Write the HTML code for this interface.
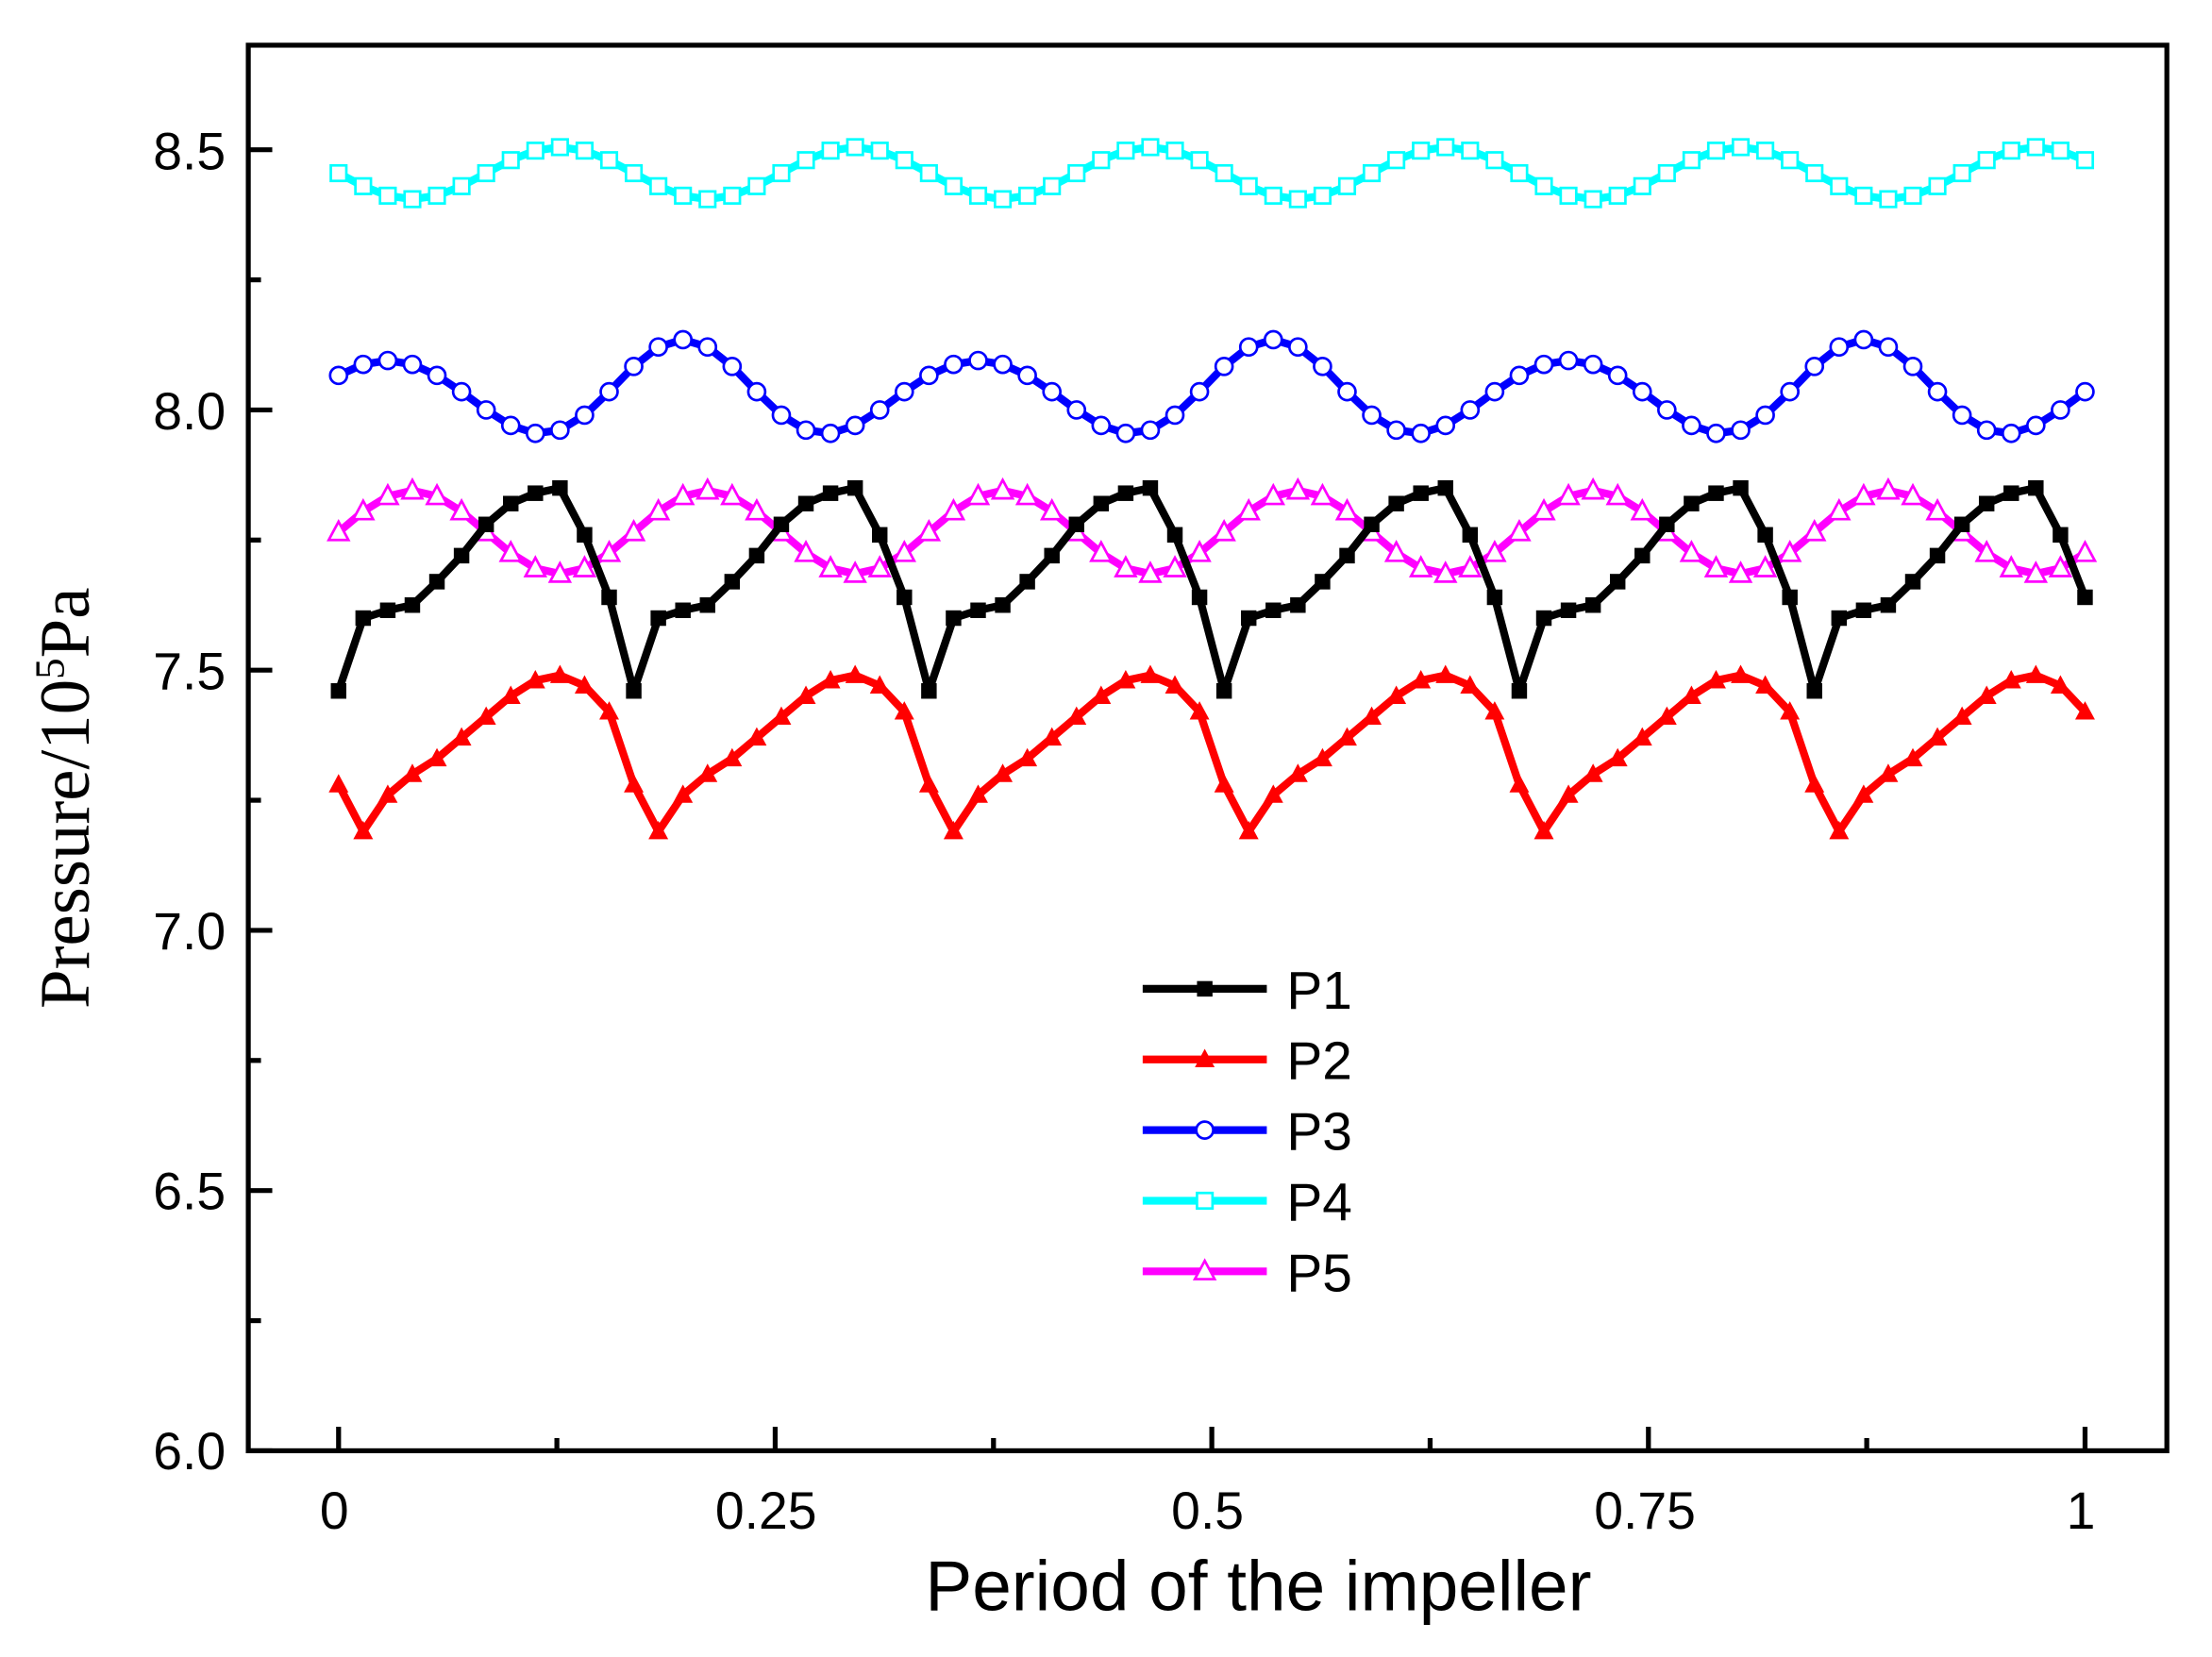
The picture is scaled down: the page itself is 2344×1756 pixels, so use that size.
<!DOCTYPE html>
<html><head><meta charset="utf-8"><style>html,body{margin:0;padding:0;background:#fff}svg{display:block}</style></head>
<body>
<svg id="s" width="2344" height="1756" viewBox="0 0 1568 1173" preserveAspectRatio="none" xmlns="http://www.w3.org/2000/svg">
<rect width="1568" height="1173" fill="#fff"/>
<g id="plot"></g>
<rect x="176" y="32" width="1360" height="995" fill="none" stroke="#000" stroke-width="3.5"/>
<g id="ticks" stroke="#000" stroke-width="3.5"></g>
<g font-family="Liberation Sans, sans-serif" font-size="37" fill="#000" text-anchor="end">
<text x="160" y="1040">6.0</text><text x="160" y="856">6.5</text><text x="160" y="672">7.0</text>
<text x="160" y="488">7.5</text><text x="160" y="304">8.0</text><text x="160" y="120">8.5</text>
</g>
<g font-family="Liberation Sans, sans-serif" font-size="37" fill="#000" text-anchor="middle">
<text x="237" y="1082">0</text><text x="543" y="1082">0.25</text><text x="856" y="1082">0.5</text>
<text x="1166" y="1082">0.75</text><text x="1475" y="1082">1</text>
</g>
<text x="892" y="1140" font-family="Liberation Sans, sans-serif" font-size="50" text-anchor="middle">Period of the impeller</text>
<text transform="translate(63,565) rotate(-90)" font-family="Liberation Serif, serif" font-size="50" text-anchor="middle">Pressure/10<tspan dy="-18" font-size="30">5</tspan><tspan dy="18">Pa</tspan></text>
<g id="legend" font-family="Liberation Sans, sans-serif" font-size="38"></g>
</svg>
<script>
const NS="http://www.w3.org/2000/svg";
const X=i=>240+i*(1238/71), Y=v=>1027-(v-6)*368.4;
const p1c=[7.46,7.60,7.615,7.625,7.67,7.72,7.78,7.82,7.84,7.85,7.76,7.64];
const p2c=[7.28,7.19,7.26,7.30,7.33,7.37,7.41,7.45,7.48,7.49,7.47,7.42];
const S=[
 {c:"#000",m:"sq",f:i=>p1c[i%12]},
 {c:"#f00",m:"tri",f:i=>p2c[i%12]},
 {c:"#00f",m:"circ",f:i=>8.035+(0.08+0.02*Math.cos(2*Math.PI*(i-14)/24))*Math.cos(2*Math.PI*(i-2)/12)},
 {c:"#0ff",m:"osq",f:i=>8.455+0.05*Math.cos(2*Math.PI*(i-9)/12)},
 {c:"#f0f",m:"otri",f:i=>7.765+0.08*Math.cos(2*Math.PI*(i-3)/12)}
];
function mk(g,t,x,y,c){let e;
 if(t=="sq"){e=document.createElementNS(NS,"rect");e.setAttribute("x",x-5.5);e.setAttribute("y",y-5.5);e.setAttribute("width",11);e.setAttribute("height",11);e.setAttribute("fill",c);}
 else if(t=="osq"){e=document.createElementNS(NS,"rect");e.setAttribute("x",x-5.5);e.setAttribute("y",y-5.5);e.setAttribute("width",11);e.setAttribute("height",11);e.setAttribute("fill","#fff");e.setAttribute("stroke",c);e.setAttribute("stroke-width",1.8);}
 else if(t=="circ"){e=document.createElementNS(NS,"circle");e.setAttribute("cx",x);e.setAttribute("cy",y);e.setAttribute("r",6);e.setAttribute("fill","#fff");e.setAttribute("stroke",c);e.setAttribute("stroke-width",1.8);}
 else {e=document.createElementNS(NS,"polygon");e.setAttribute("points",`${x},${y-7.5} ${x-7},${y+5.5} ${x+7},${y+5.5}`);
   if(t=="tri"){e.setAttribute("fill",c);}else{e.setAttribute("fill","#fff");e.setAttribute("stroke",c);e.setAttribute("stroke-width",1.8);}}
 g.appendChild(e);}
const plot=document.getElementById("plot");
S.slice().reverse().forEach(s=>{
 let pts=[];for(let i=0;i<72;i++)pts.push([X(i),Y(s.f(i))]);
 const pl=document.createElementNS(NS,"polyline");pl.setAttribute("points",pts.map(p=>p.join(",")).join(" "));
 pl.setAttribute("fill","none");pl.setAttribute("stroke",s.c);pl.setAttribute("stroke-width",5.5);pl.setAttribute("stroke-linejoin","round");plot.appendChild(pl);
 pts.forEach(p=>mk(plot,s.m,p[0],p[1],s.c));
});
const tk=document.getElementById("ticks");
function ln(x1,y1,x2,y2){const l=document.createElementNS(NS,"line");l.setAttribute("x1",x1);l.setAttribute("y1",y1);l.setAttribute("x2",x2);l.setAttribute("y2",y2);tk.appendChild(l);}
for(let k=0;k<=10;k++){const y=1027-k*92.1;ln(176,y,176+(k%2?9:17),y);}
for(let k=0;k<=8;k++){const x=240+k*1238/8;ln(x,1027,x,1027-(k%2?9:17));}
const lg=document.getElementById("legend");
S.forEach((s,k)=>{const y=700+k*50;
 const l=document.createElementNS(NS,"line");l.setAttribute("x1",810);l.setAttribute("x2",898);l.setAttribute("y1",y);l.setAttribute("y2",y);l.setAttribute("stroke",s.c);l.setAttribute("stroke-width",5.5);lg.appendChild(l);
 mk(lg,s.m,854,y,s.c);
 const t=document.createElementNS(NS,"text");t.setAttribute("x",912);t.setAttribute("y",y+14);t.textContent="P"+(k+1);lg.appendChild(t);
});
</script>
</body></html>
